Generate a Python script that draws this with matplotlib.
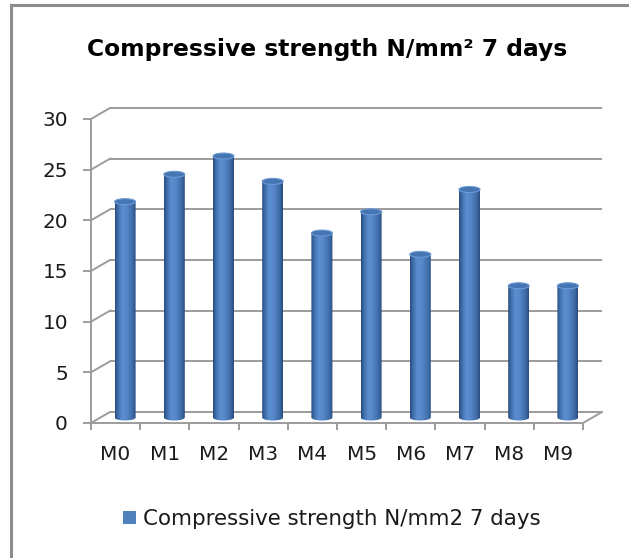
import numpy as np
import matplotlib
matplotlib.use("Agg")
import matplotlib.pyplot as plt
from matplotlib.path import Path
from matplotlib.patches import PathPatch, Ellipse, Patch
from matplotlib.colors import LinearSegmentedColormap
from matplotlib.lines import Line2D

# ---- data ----
categories = ["M0", "M1", "M2", "M3", "M4", "M5", "M6", "M7", "M8", "M9"]
values = [21.3, 24.0, 25.8, 23.3, 18.2, 20.3, 16.1, 22.5, 13.0, 13.0]
yticks = [0, 5, 10, 15, 20, 25, 30]
title_text = "Compressive strength N/mm\u00b2 7 days"
legend_text = "Compressive strength N/mm2 7 days"

plt.rcParams['font.family'] = ['DejaVu Sans']

W, H, DPI = 629, 558, 100
fig = plt.figure(figsize=(W / DPI, H / DPI), dpi=DPI)
fig.patch.set_facecolor("white")

# axes frame (front plane) in pixels
L, R, B, T = 91, 583, 423, 119
ax = fig.add_axes([L / W, 1 - B / H, (R - L) / W, (B - T) / H])
ax.set_facecolor("none")
n = len(categories)
xmin, xmax, ymin, ymax = -0.5, n - 0.5, 0, 30
ax.set_xlim(xmin, xmax)
ax.set_ylim(ymin, ymax)

# oblique depth offset (pixels) -> data units
DXP, DYP = 19, 11
px_per_x = (R - L) / (xmax - xmin)
px_per_y = (B - T) / (ymax - ymin)
ddx = DXP / px_per_x
ddy = DYP / px_per_y

grid_c = "#9c9c9c"
glw = 1.4

# back wall gridlines and side-wall diagonals
for v in yticks:
    ax.plot([xmin + ddx, xmax + ddx], [v + ddy, v + ddy], color=grid_c, lw=glw,
            clip_on=False, zorder=1, solid_capstyle="butt")
    ax.plot([xmin, xmin + ddx], [v, v + ddy], color=grid_c, lw=glw,
            clip_on=False, zorder=1)
# floor right edge
ax.plot([xmax, xmax + ddx], [0, ddy], color=grid_c, lw=glw, clip_on=False, zorder=1)

# cylinders
cmap = LinearSegmentedColormap.from_list("cyl", [
    (0.0, "#27497a"), (0.12, "#3c6aa6"), (0.35, "#5b8fd2"), (0.55, "#5687c8"),
    (0.8, "#4370ad"), (0.93, "#335c92"), (1.0, "#27497a")])
grad = np.linspace(0, 1, 256)[np.newaxis, :]
bw = 21 / px_per_x
eh = 6 / px_per_y
t = np.linspace(np.pi, 2 * np.pi, 40)
for i, v in enumerate(values):
    cx = i + ddx / 2
    base = ddy / 2
    top = base + v
    verts = [(cx - bw / 2, top), (cx - bw / 2, base)]
    verts += [(cx + bw / 2 * np.cos(a), base + eh / 2 * np.sin(a)) for a in t]
    verts += [(cx + bw / 2, top), (cx - bw / 2, top)]
    codes = [Path.MOVETO] + [Path.LINETO] * (len(verts) - 2) + [Path.CLOSEPOLY]
    body = PathPatch(Path(verts, codes), facecolor="none", edgecolor="none",
                     clip_on=False)
    ax.add_patch(body)
    im = ax.imshow(grad, extent=(cx - bw / 2, cx + bw / 2, base - eh, top),
                   aspect="auto", cmap=cmap, zorder=3, interpolation="bilinear")
    im.set_clip_path(body)
    ax.add_patch(Ellipse((cx, top), bw, eh, facecolor="#4675b3",
                         edgecolor="#6b9ad6", lw=0.8, zorder=4, clip_on=False))

ax.set_xlim(xmin, xmax)
ax.set_ylim(ymin, ymax)

# spines & ticks
for s in ["top", "right"]:
    ax.spines[s].set_visible(False)
for s in ["left", "bottom"]:
    ax.spines[s].set_color(grid_c)
    ax.spines[s].set_linewidth(glw)
ax.set_yticks(yticks)
ax.set_yticklabels([str(v) for v in yticks])
ax.set_xticks(np.arange(n + 1) - 0.5)
ax.set_xticklabels([])
ax.set_xticks(np.arange(n), minor=True)
ax.set_xticklabels(categories, minor=True)
ax.tick_params(axis="y", length=8 * 0.72, width=glw, color=grid_c, pad=15 * 0.72,
               labelsize=14.4, labelcolor="#1a1a1a")
ax.tick_params(axis="x", which="major", length=7 * 0.72, width=glw, color=grid_c)
ax.tick_params(axis="x", which="minor", length=0, pad=22 * 0.72,
               labelsize=14.4, labelcolor="#1a1a1a")

# title
ttl = fig.text(327.5 / W, 1 - 56 / H, title_text, ha="center", va="baseline",
               fontsize=16, fontweight="bold", color="#000000")
renderer = fig.canvas.get_renderer()
wpx = ttl.get_window_extent(renderer).width
ttl.set_fontsize(16 * 481 / wpx)

# legend
probe = fig.text(0, 0, legend_text, fontsize=14)
lw_px = probe.get_window_extent(renderer).width
probe.remove()
lfs = 14 * 399 / lw_px
leg = fig.legend(handles=[Patch(facecolor="#4f81bd", edgecolor="none")],
                 labels=[legend_text], loc="center",
                 bbox_to_anchor=(332 / W, 1 - 519 / H), frameon=False,
                 fontsize=lfs, handlelength=13 / (lfs / 0.72),
                 handleheight=13 / (lfs / 0.72), handletextpad=0.35,
                 borderpad=0, borderaxespad=0)
for tx in leg.get_texts():
    tx.set_color("#1a1a1a")

# chart border (left & top visible)
fig.add_artist(Line2D([11 / W, 11 / W], [0, 1 - 5 / H], transform=fig.transFigure,
                      color="#8c8c8c", lw=2.2))
fig.add_artist(Line2D([11 / W, 1], [1 - 5 / H, 1 - 5 / H], transform=fig.transFigure,
                      color="#8c8c8c", lw=2.2))

fig.savefig("out.png", dpi=DPI, facecolor="white")
